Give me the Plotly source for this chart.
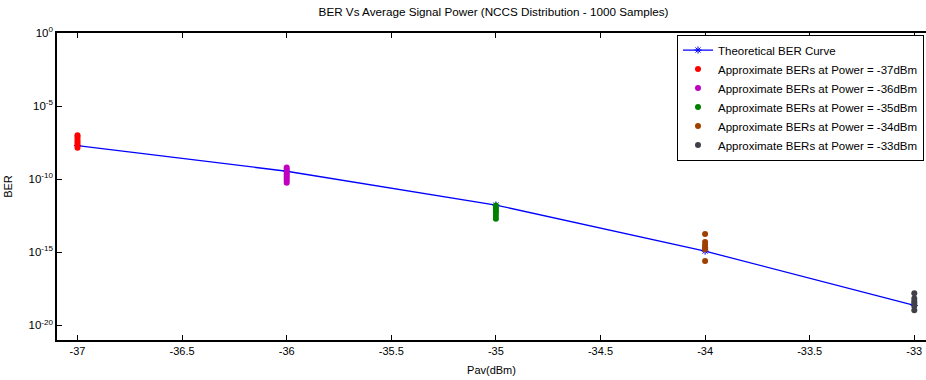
import plotly.graph_objects as go

power_dbm = [-37, -36, -35, -34, -33]
theoretical_ber = [2.0e-8, 3.5e-10, 1.7e-12, 1.2e-15, 2.3e-19]

approx_ber = {
    -37: [1.0e-7, 8.0e-8, 5.6e-8, 4.0e-8, 2.8e-8, 2.0e-8, 1.4e-8],
    -36: [6.3e-10, 4.5e-10, 3.2e-10, 2.2e-10, 1.6e-10, 1.1e-10, 8.0e-11, 5.6e-11],
    -35: [1.6e-12, 1.0e-12, 7.0e-13, 5.0e-13, 3.2e-13, 2.0e-13],
    -34: [1.8e-14, 5.0e-15, 3.2e-15, 2.2e-15, 1.6e-15, 2.5e-16],
    -33: [1.6e-18, 7.0e-19, 4.5e-19, 3.2e-19, 2.2e-19, 1.1e-19],
}
series_colors = ["#ff0000", "#c000c0", "#008000", "#a04000", "#40404a"]

x_ticks = [-37, -36.5, -36, -35.5, -35, -34.5, -34, -33.5, -33]
y_exps = [0, -5, -10, -15, -20]

fig = go.Figure()
fig.add_trace(go.Scatter(
    x=power_dbm, y=theoretical_ber, mode="lines+markers",
    name="Theoretical BER Curve",
    line=dict(color="#0000ff", width=1.3),
    marker=dict(symbol="asterisk-open", size=6, color="#0000ff", line=dict(width=1, color="#0000ff")),
))
for (p, vals), c in zip(approx_ber.items(), series_colors):
    fig.add_trace(go.Scatter(
        x=[p] * len(vals), y=vals, mode="markers",
        name=f"Approximate BERs at Power = {p}dBm",
        marker=dict(symbol="circle", size=6, color=c),
    ))

font = "Liberation Sans, Arial, sans-serif"
L = 57
fig.update_layout(
    width=926, height=380,
    margin=dict(l=L, r=0, t=33, b=40, autoexpand=False),
    paper_bgcolor="white", plot_bgcolor="white",
    font=dict(family=font, size=11, color="black"),
    title=dict(text="BER Vs Average Signal Power (NCCS Distribution - 1000 Samples)",
               x=0.533, xanchor="center", y=0.968, yanchor="middle",
               font=dict(size=11.7, family=font, color="black")),
    showlegend=True,
    legend=dict(x=(677 - L) / (926 - L), y=0.995, xanchor="left", yanchor="top",
                xref="paper", yref="paper",
                bgcolor="white", bordercolor="black", borderwidth=1,
                font=dict(size=11.5, family=font), tracegroupgap=0, itemwidth=30),
)
fig.update_xaxes(
    range=[-37.098, -32.944], tickvals=x_ticks, ticktext=[f"{v:g}" for v in x_ticks],
    ticks="inside", ticklen=5, tickcolor="black", tickwidth=1,
    showline=True, linecolor="black", linewidth=1.5, mirror="ticks",
    showgrid=False, zeroline=False, automargin=False, ticklabeloverflow="allow",
    title=dict(text="Pav(dBm)", font=dict(size=11), standoff=10),
    tickfont=dict(size=11),
)
fig.update_yaxes(
    type="log", range=[-21, 0],
    tickvals=[10.0 ** e for e in y_exps],
    ticktext=[f"10<sup>{e}</sup>" for e in y_exps],
    ticks="inside", ticklen=5, tickcolor="black", tickwidth=1,
    showline=True, linecolor="black", linewidth=1.5, mirror=False,
    showgrid=False, zeroline=False, automargin=False,
    title=dict(text="BER", font=dict(size=11), standoff=14),
    tickfont=dict(size=11.5),
)
fig.write_html("out.html")
